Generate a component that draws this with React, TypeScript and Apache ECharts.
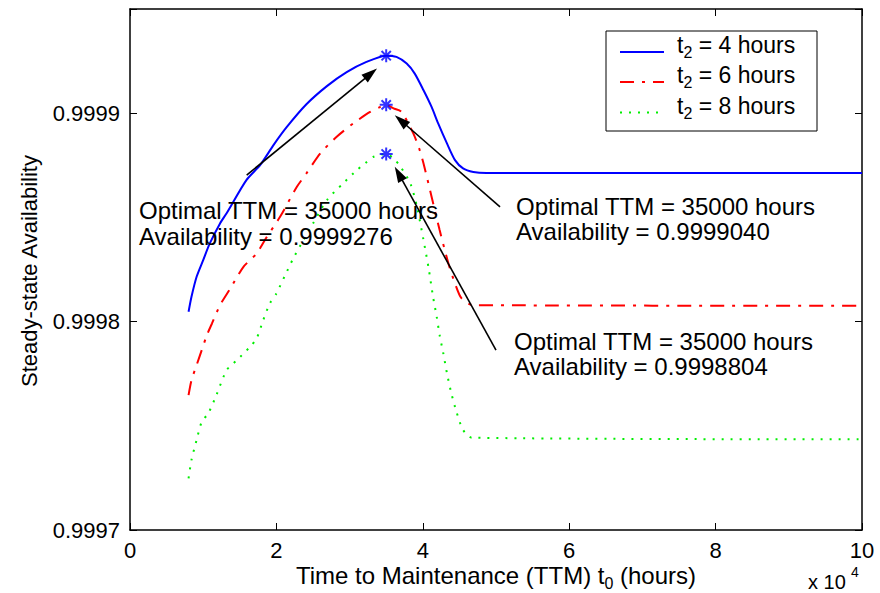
import React, { useEffect, useRef } from "react";
import * as echarts from "echarts";

const FONT = '"Liberation Sans", Arial, Helvetica, sans-serif';

const seriesNames = ["t2 = 4 hours", "t2 = 6 hours", "t2 = 8 hours"];
const seriesColors = ["#0000ff", "#ff0000", "#00ee00"];

const xTicks = [0, 20000, 40000, 60000, 80000, 100000];
const yTicks = [0.9997, 0.9998, 0.9999];

const hours4X = [8000, 8400, 9100, 10000, 10900, 12300, 13200, 15900, 17800, 19600, 21400, 24100, 26900, 29600, 32300, 35000, 36400, 37800, 38900, 40100, 41200, 42100, 43300, 44400, 45500, 46900, 48700, 100000];
const hours4Y = [0.9998047, 0.9998119, 0.9998215, 0.9998295, 0.9998375, 0.9998471, 0.999852, 0.9998679, 0.9998752, 0.9998847, 0.9998933, 0.9999043, 0.999913, 0.9999197, 0.9999246, 0.9999276, 0.999927, 0.9999238, 0.999919, 0.999911, 0.999903, 0.9998951, 0.9998855, 0.9998775, 0.9998735, 0.9998718, 0.9998713, 0.9998713];

const hours6X = [8000, 8400, 9100, 9800, 10500, 11200, 12300, 13700, 15500, 17300, 18700, 20500, 22800, 24100, 26000, 28200, 30500, 32800, 34200, 35000, 36000, 37100, 38700, 39500, 40100, 41200, 42300, 43500, 44400, 45300, 46900, 100000];
const hours6Y = [0.9997647, 0.9997719, 0.9997791, 0.9997863, 0.9997935, 0.9997991, 0.9998079, 0.9998159, 0.9998263, 0.9998327, 0.9998407, 0.9998503, 0.9998647, 0.9998711, 0.9998807, 0.9998886, 0.9998951, 0.9999006, 0.999903, 0.999904, 0.9999023, 0.9999006, 0.9998903, 0.9998831, 0.9998759, 0.9998599, 0.9998439, 0.9998279, 0.9998183, 0.9998111, 0.9998079, 0.9998076];

const hours8X = [8000, 8400, 9100, 9800, 10700, 11800, 13200, 14600, 16400, 17300, 18200, 19100, 20000, 21200, 22300, 23700, 25000, 26900, 29100, 31000, 32100, 33200, 35000, 36000, 36900, 38300, 39200, 40100, 40800, 41400, 41900, 42300, 42800, 43300, 43900, 44600, 45500, 46700, 100000];
const hours8Y = [0.9997248, 0.9997336, 0.9997432, 0.9997519, 0.999756, 0.9997647, 0.9997767, 0.9997815, 0.9997879, 0.9997919, 0.9998007, 0.9998087, 0.9998135, 0.9998223, 0.9998303, 0.9998391, 0.9998471, 0.9998583, 0.9998663, 0.9998727, 0.9998759, 0.999879, 0.9998804, 0.9998783, 0.9998746, 0.9998663, 0.9998551, 0.9998391, 0.9998255, 0.9998119, 0.9998023, 0.9997935, 0.9997848, 0.9997752, 0.9997656, 0.9997567, 0.999748, 0.9997443, 0.9997435];

const optimalTTM = [35000, 35000, 35000];
const optimalAvailability = [0.9999276, 0.999904, 0.9998804];

const arrowTails = [
  [15940, 0.9998703],
  [50550, 0.9998551],
  [50000, 0.9997863],
];
const arrowHeads = [
  [32900, 0.999919],
  [37000, 0.9998965],
  [36700, 0.999871],
];

const annotationTexts = [
  "Optimal TTM = 35000 hours\nAvailability = 0.9999276",
  "Optimal TTM = 35000 hours\nAvailability = 0.9999040",
  "Optimal TTM = 35000 hours\nAvailability = 0.9998804",
];

const zip = (xs: number[], ys: number[]) => xs.map((x, i) => [x, ys[i]]);

export default function App() {
  const ref = useRef<HTMLDivElement>(null);

  useEffect(() => {
    if (!ref.current) return;
    const chart = echarts.init(ref.current, undefined, { renderer: "svg" });

    const axisCommon = {
      axisLine: { show: true, onZero: false, lineStyle: { color: "#000", width: 1.5 } },
      axisTick: { show: true, inside: true, length: 7, lineStyle: { color: "#000", width: 1 } },
      splitLine: { show: false },
    };

    const xAxisBase = { type: "value", min: 0, max: 100000, interval: 20000, ...axisCommon };
    const yAxisBase = { type: "value", min: 0.9997, max: 0.99995, interval: 0.0001, scale: true, ...axisCommon };

    const yFormatter = (v: number) => {
      const k = Math.round(v * 1e4);
      if (Math.abs(v * 1e4 - k) > 1e-4) return "";
      if (!yTicks.some((t) => Math.abs(t - k / 1e4) < 1e-9)) return "";
      return (k / 1e4).toFixed(4);
    };
    const xFormatter = (v: number) => {
      if (!xTicks.includes(Math.round(v))) return "";
      return String(Math.round(v / 10000));
    };

    const dashTypes: any[] = ["solid", [14, 8, 3, 8], [2, 7]];
    const lineData = [zip(hours4X, hours4Y), zip(hours6X, hours6Y), zip(hours8X, hours8Y)];

    const lineSeries = seriesNames.map((name, i) => ({
      name,
      type: "line",
      data: lineData[i],
      showSymbol: false,
      symbol: "none",
      smooth: 0.25,
      xAxisIndex: 0,
      yAxisIndex: 0,
      lineStyle: { color: seriesColors[i], width: 2, type: dashTypes[i] },
      itemStyle: { color: seriesColors[i] },
      emphasis: { disabled: true },
      z: 3 - i,
    }));

    const starPath = "path://M0,-6L0,6M-6,0L6,0M-4.3,-4.3L4.3,4.3M-4.3,4.3L4.3,-4.3";

    // legend drawn as graphic elements (box, line samples, labels)
    const legendLeft = 606;
    const legendTop = 31;
    const legendRowY = [52, 82, 112.5];
    const legendGraphics: any[] = [
      {
        type: "rect",
        shape: { x: legendLeft, y: legendTop, width: 211, height: 100 },
        style: { fill: "#fff", stroke: "#000", lineWidth: 1 },
        z: 90,
      },
    ];
    seriesNames.forEach((name, i) => {
      const dash = dashTypes[i];
      legendGraphics.push({
        type: "line",
        shape: { x1: legendLeft + 14, y1: legendRowY[i], x2: legendLeft + 58, y2: legendRowY[i] },
        style: { stroke: seriesColors[i], lineWidth: 2, lineDash: Array.isArray(dash) ? dash : null },
        z: 91,
      });
      legendGraphics.push({
        type: "text",
        x: legendLeft + 71,
        y: legendRowY[i] - 18.5,
        z: 91,
        style: {
          text: `{m|t}{s|2}{m|${name.replace(/^t2/, "")}}`,
          verticalAlign: "top",
          rich: {
            m: { fontSize: 23, fontFamily: FONT, fill: "#000", color: "#000", verticalAlign: "top" },
            s: { fontSize: 16, fontFamily: FONT, fill: "#000", color: "#000", verticalAlign: "top", padding: [11, 0, 0, 0] },
          },
        },
      });
    });

    const option: any = {
      animation: false,
      backgroundColor: "#fff",
      grid: { left: 130, right: 18, top: 9, bottom: 63, containLabel: false },
      textStyle: { fontFamily: FONT },
      legend: { show: false, data: seriesNames },
      xAxis: [
        {
          ...xAxisBase,
          position: "bottom",
          axisLabel: { show: true, formatter: xFormatter, color: "#000", fontSize: 22, fontFamily: FONT, margin: 9 },
        },
        { ...xAxisBase, position: "top", axisLabel: { show: false } },
      ],
      yAxis: [
        {
          ...yAxisBase,
          position: "left",
          axisLabel: { show: true, formatter: yFormatter, color: "#000", fontSize: 22, fontFamily: FONT, margin: 10 },
        },
        { ...yAxisBase, position: "right", axisLabel: { show: false } },
      ],
      series: [
        ...lineSeries,
        {
          name: "optimum",
          type: "scatter",
          data: zip(optimalTTM, optimalAvailability),
          symbol: starPath,
          symbolSize: 13,
          itemStyle: { color: "none", borderColor: "#0000ff", borderWidth: 2 },
          emphasis: { disabled: true },
          z: 6,
          markLine: {
            silent: true,
            symbol: ["none", "triangle"],
            symbolSize: [10, 16],
            label: { show: false },
            lineStyle: { color: "#000", width: 1.6, type: "solid" },
            emphasis: { disabled: true },
            data: arrowTails.map((t, i) => [
              { coord: t, symbol: "none" },
              { coord: arrowHeads[i], symbol: "triangle" },
            ]),
          },
        },
      ],
      graphic: [
        ...legendGraphics,
        {
          type: "text",
          x: 139,
          y: 197,
          z: 100,
          style: { text: annotationTexts[0], fill: "#000", fontSize: 24, fontFamily: FONT, lineHeight: 26, verticalAlign: "top" },
        },
        {
          type: "text",
          x: 516,
          y: 194,
          z: 100,
          style: { text: annotationTexts[1], fill: "#000", fontSize: 24, fontFamily: FONT, lineHeight: 25, verticalAlign: "top" },
        },
        {
          type: "text",
          x: 514,
          y: 329,
          z: 100,
          style: { text: annotationTexts[2], fill: "#000", fontSize: 24, fontFamily: FONT, lineHeight: 25, verticalAlign: "top" },
        },
        {
          type: "text",
          x: 29,
          y: 271,
          rotation: Math.PI / 2,
          z: 100,
          style: { text: "Steady-state Availability", fill: "#000", fontSize: 22, fontFamily: FONT, align: "center", verticalAlign: "middle" },
        },
        {
          type: "text",
          x: 496,
          y: 563,
          z: 100,
          style: {
            text: "{m|Time to Maintenance (TTM) t}{s|0}{m| (hours)}",
            align: "center",
            verticalAlign: "top",
            rich: {
              m: { fontSize: 24, fontFamily: FONT, fill: "#000", color: "#000", verticalAlign: "top" },
              s: { fontSize: 16, fontFamily: FONT, fill: "#000", color: "#000", verticalAlign: "top", padding: [12, 0, 0, 0] },
            },
          },
        },
        {
          type: "text",
          x: 808,
          y: 582,
          z: 100,
          style: { text: "x 10", fill: "#000", fontSize: 20, fontFamily: FONT, verticalAlign: "middle" },
        },
        {
          type: "text",
          x: 851,
          y: 572,
          z: 100,
          style: { text: "4", fill: "#000", fontSize: 14, fontFamily: FONT, verticalAlign: "middle" },
        },
      ],
    };

    chart.setOption(option);
    return () => chart.dispose();
  }, []);

  return (
    <div
      ref={ref}
      style={{ position: "absolute", left: 0, top: 0, width: 880, height: 593, background: "#fff" }}
    />
  );
}
